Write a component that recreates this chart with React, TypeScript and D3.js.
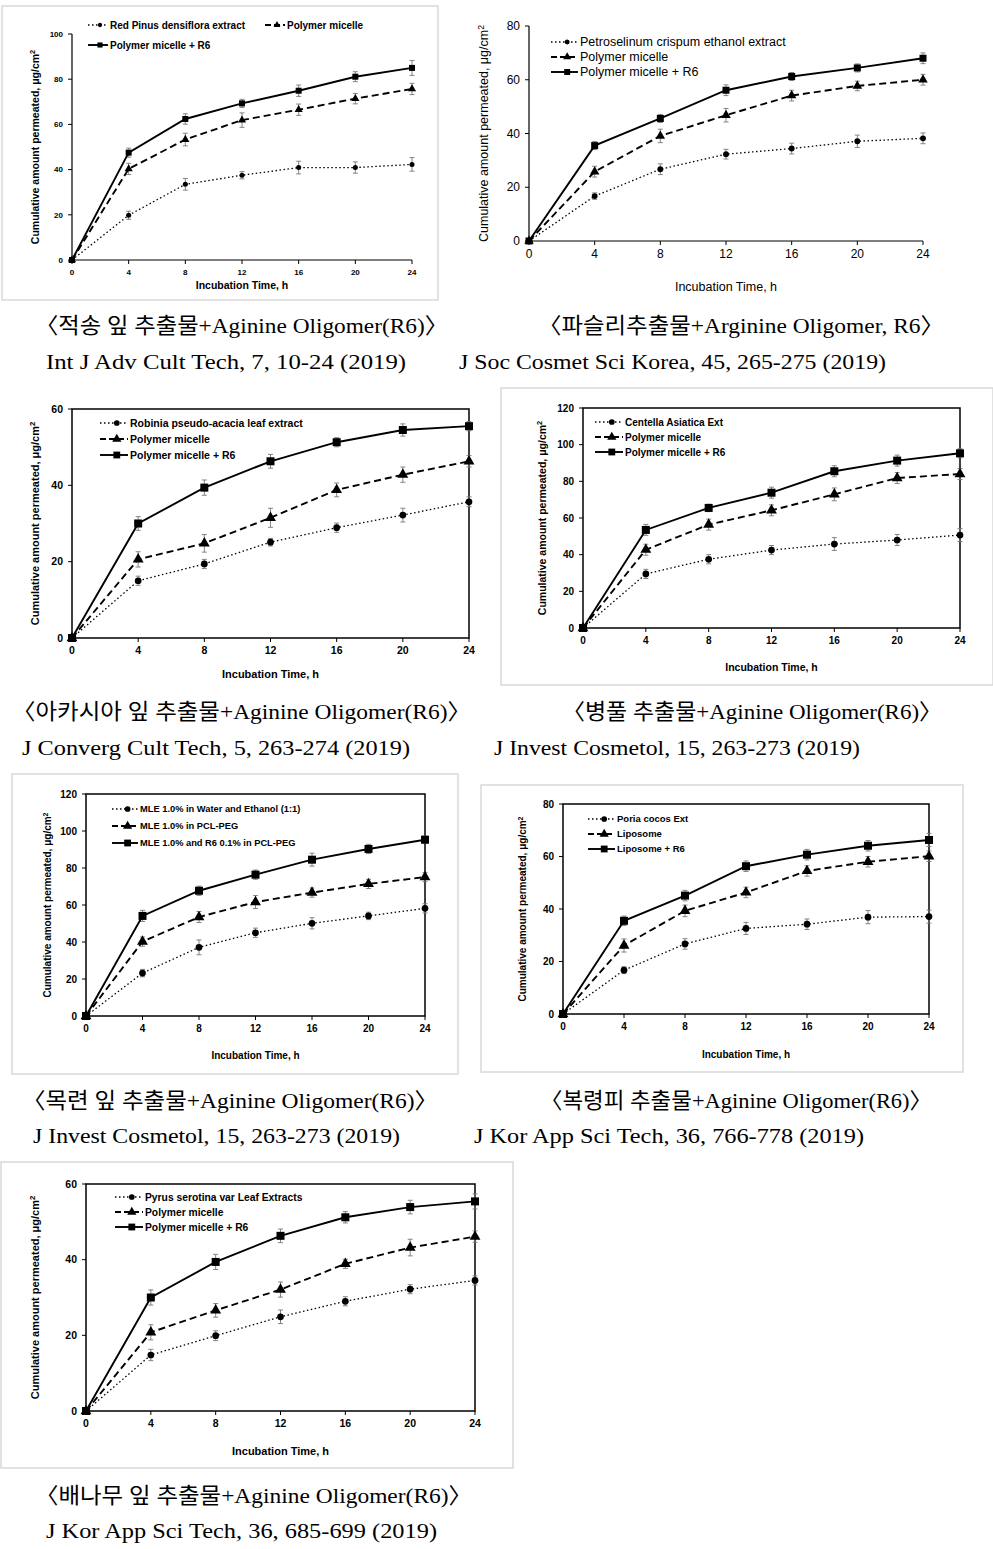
import React from 'react';
import * as d3 from 'd3';

const hours = [0, 4, 8, 12, 16, 20, 24];

// Panel 1 – Red Pinus densiflora
const p1Names = ['Red Pinus densiflora extract', 'Polymer micelle', 'Polymer micelle + R6'];
const p1Extract = [0, 19.8, 33.5, 37.5, 40.9, 40.9, 42.3];
const p1Micelle = [0, 40.3, 53.3, 61.9, 66.5, 71.4, 75.7];
const p1R6 = [0, 47.5, 62.4, 69.3, 74.9, 81.1, 85.0];
const p1ExtractErr = [0, 1.8, 2.6, 1.6, 2.8, 2.5, 3];
const p1MicelleErr = [0, 2.5, 2.8, 3.2, 2.5, 2.3, 2.5];
const p1R6Err = [0, 2, 2.3, 1.8, 2.5, 2.2, 3.3];

// Panel 2 – Petroselinum crispum
const p2Names = ['Petroselinum crispum ethanol extract', 'Polymer micelle', 'Polymer micelle + R6'];
const p2Extract = [0, 16.7, 26.7, 32.3, 34.4, 37.1, 38.2];
const p2Micelle = [0, 25.8, 39.1, 46.8, 54.1, 57.7, 60.0];
const p2R6 = [0, 35.5, 45.6, 56.1, 61.2, 64.4, 68.0];
const p2ExtractErr = [0, 1.2, 2, 1.8, 2, 2.3, 2];
const p2MicelleErr = [0, 2, 2.5, 2.5, 2, 1.8, 2];
const p2R6Err = [0, 1.5, 1.5, 2, 1.5, 1.5, 2];

// Panel 3 – Robinia pseudo-acacia
const p3Names = ['Robinia pseudo-acacia leaf extract', 'Polymer micelle', 'Polymer micelle + R6'];
const p3Extract = [0, 15.0, 19.4, 25.1, 28.9, 32.2, 35.7];
const p3Micelle = [0, 20.6, 24.8, 31.5, 38.8, 42.8, 46.3];
const p3R6 = [0, 30.0, 39.4, 46.3, 51.3, 54.5, 55.5];
const p3ExtractErr = [0, 1.2, 1.2, 1, 1.2, 1.8, 1.3];
const p3MicelleErr = [0, 2, 2.3, 2.5, 1.8, 2, 1.5];
const p3R6Err = [0, 1.8, 2, 1.8, 1.2, 1.6, 1.2];

// Panel 4 – Centella Asiatica
const p4Names = ['Centella Asiatica Ext', 'Polymer micelle', 'Polymer micelle + R6'];
const p4Extract = [0, 29.5, 37.5, 42.5, 45.8, 48.0, 50.7];
const p4Micelle = [0, 42.7, 56.4, 64.2, 72.9, 81.8, 84.0];
const p4R6 = [0, 53.5, 65.5, 73.8, 85.5, 91.3, 95.3];
const p4ExtractErr = [0, 2.5, 2.5, 2.5, 3.5, 3, 3.5];
const p4MicelleErr = [0, 3, 3, 3, 3.5, 3, 3];
const p4R6Err = [0, 3, 2, 3, 3, 3, 2.5];

// Panel 5 – Magnolia leaf extract (MLE)
const p5Names = ['MLE 1.0% in Water and Ethanol (1:1)', 'MLE 1.0% in PCL-PEG', 'MLE 1.0% and R6 0.1% in PCL-PEG'];
const p5Extract = [0, 23.2, 37.1, 45.0, 50.1, 54.1, 58.2];
const p5Micelle = [0, 40.2, 53.5, 61.6, 66.7, 71.4, 75.1];
const p5R6 = [0, 54.1, 67.7, 76.4, 84.5, 90.3, 95.3];
const p5ExtractErr = [0, 2, 4, 2.5, 3, 2, 2.5];
const p5MicelleErr = [0, 2.5, 3, 3.5, 2.5, 2.5, 2.5];
const p5R6Err = [0, 3, 2.5, 2.5, 3.5, 2.5, 2];

// Panel 6 – Poria cocos
const p6Names = ['Poria cocos Ext', 'Liposome', 'Liposome + R6'];
const p6Extract = [0, 16.7, 26.7, 32.6, 34.2, 36.9, 37.1];
const p6Micelle = [0, 26.1, 39.3, 46.3, 54.5, 58.0, 60.1];
const p6R6 = [0, 35.5, 45.1, 56.3, 60.7, 64.1, 66.3];
const p6ExtractErr = [0, 1.3, 2, 2.3, 2, 2.5, 2.5];
const p6MicelleErr = [0, 2.5, 2.2, 2, 2, 2, 2];
const p6R6Err = [0, 1.8, 2, 2, 2, 2, 2.5];

// Panel 7 – Pyrus serotina
const p7Names = ['Pyrus serotina var Leaf Extracts', 'Polymer micelle', 'Polymer micelle + R6'];
const p7Extract = [0, 14.8, 19.9, 24.9, 29.0, 32.2, 34.5];
const p7Micelle = [0, 20.8, 26.6, 32.1, 38.9, 43.2, 46.1];
const p7R6 = [0, 30.0, 39.4, 46.3, 51.2, 53.9, 55.4];
const p7ExtractErr = [0, 1.5, 1.3, 1.8, 1.2, 1.2, 1.2];
const p7MicelleErr = [0, 2, 1.8, 2, 1.2, 2.2, 1.5];
const p7R6Err = [0, 2, 2, 1.8, 1.5, 1.8, 2];

const yTitle = 'Cumulative amount permeated, μg/cm';
const xTitle = 'Incubation Time, h';

const captions1 = [
  '〈적송 잎 추출물+Aginine Oligomer(R6)〉',
  '〈파슬리추출물+Arginine Oligomer, R6〉',
  '〈아카시아 잎 추출물+Aginine Oligomer(R6)〉',
  '〈병풀 추출물+Aginine Oligomer(R6)〉',
  '〈목련 잎 추출물+Aginine Oligomer(R6)〉',
  '〈복령피 추출물+Aginine Oligomer(R6)〉',
  '〈배나무 잎 추출물+Aginine Oligomer(R6)〉',
];
const captions2 = [
  'Int J Adv Cult Tech, 7, 10-24 (2019)',
  'J Soc Cosmet Sci Korea, 45, 265-275 (2019)',
  'J Converg Cult Tech, 5, 263-274 (2019)',
  'J Invest Cosmetol, 15, 263-273 (2019)',
  'J Invest Cosmetol, 15, 263-273 (2019)',
  'J Kor App Sci Tech, 36, 766-778 (2019)',
  'J Kor App Sci Tech, 36, 685-699 (2019)',
];

type Cfg = {
  names: string[];
  series: number[][];
  errs: number[][];
  yMax: number;
  x0: number; x1: number; yb: number; yt: number;
  frame: boolean;
  border: number[] | null;
  bold: boolean;
  tickFs: number; titleFs: number; legFs: number;
  yTitleX: number; xTitleY: number;
  legend: number[][];
  legW: number;
  cap1: number[]; cap2: number[];
  ms: number;
};

const panels: Cfg[] = [
  {
    names: p1Names, series: [p1Extract, p1Micelle, p1R6], errs: [p1ExtractErr, p1MicelleErr, p1R6Err],
    yMax: 100, x0: 72, x1: 412, yb: 260, yt: 34, frame: false, border: [2, 6, 436, 294], bold: true,
    tickFs: 8, titleFs: 10.5, legFs: 10, yTitleX: 39, xTitleY: 289,
    legend: [[88, 25], [265, 25], [88, 45]], legW: 20,
    cap1: [35, 448, 333], cap2: [46, 406, 369], ms: 6,
  },
  {
    names: p2Names, series: [p2Extract, p2Micelle, p2R6], errs: [p2ExtractErr, p2MicelleErr, p2R6Err],
    yMax: 80, x0: 529, x1: 923, yb: 241, yt: 26, frame: false, border: null, bold: false,
    tickFs: 12, titleFs: 12.5, legFs: 12.5, yTitleX: 488, xTitleY: 291,
    legend: [[551, 42], [551, 57], [551, 72]], legW: 27,
    cap1: [538, 944, 333], cap2: [459, 886, 369], ms: 7,
  },
  {
    names: p3Names, series: [p3Extract, p3Micelle, p3R6], errs: [p3ExtractErr, p3MicelleErr, p3R6Err],
    yMax: 60, x0: 72, x1: 469, yb: 638, yt: 409, frame: true, border: null, bold: true,
    tickFs: 10.5, titleFs: 11, legFs: 10.5, yTitleX: 39, xTitleY: 678,
    legend: [[100, 423], [100, 439], [100, 455]], legW: 28,
    cap1: [12, 471, 719], cap2: [22, 410, 755], ms: 8,
  },
  {
    names: p4Names, series: [p4Extract, p4Micelle, p4R6], errs: [p4ExtractErr, p4MicelleErr, p4R6Err],
    yMax: 120, x0: 583, x1: 960, yb: 628, yt: 408, frame: true, border: [501, 388, 492, 297], bold: true,
    tickFs: 10, titleFs: 10.5, legFs: 10, yTitleX: 546, xTitleY: 671,
    legend: [[595, 422], [595, 437], [595, 452]], legW: 28,
    cap1: [562, 942, 719], cap2: [494, 860, 755], ms: 8,
  },
  {
    names: p5Names, series: [p5Extract, p5Micelle, p5R6], errs: [p5ExtractErr, p5MicelleErr, p5R6Err],
    yMax: 120, x0: 86, x1: 425, yb: 1016, yt: 794, frame: true, border: [12, 774, 446, 300], bold: true,
    tickFs: 10, titleFs: 10, legFs: 9.3, yTitleX: 51, xTitleY: 1059,
    legend: [[112, 809], [112, 826], [112, 843]], legW: 26,
    cap1: [22, 438, 1108], cap2: [33, 400, 1143], ms: 8,
  },
  {
    names: p6Names, series: [p6Extract, p6Micelle, p6R6], errs: [p6ExtractErr, p6MicelleErr, p6R6Err],
    yMax: 80, x0: 563, x1: 929, yb: 1014, yt: 804, frame: true, border: [481, 785, 482, 287], bold: true,
    tickFs: 10, titleFs: 10, legFs: 9.5, yTitleX: 526, xTitleY: 1058,
    legend: [[588, 819], [588, 834], [588, 849]], legW: 27,
    cap1: [540, 932, 1108], cap2: [474, 864, 1143], ms: 8,
  },
  {
    names: p7Names, series: [p7Extract, p7Micelle, p7R6], errs: [p7ExtractErr, p7MicelleErr, p7R6Err],
    yMax: 60, x0: 86, x1: 475, yb: 1411, yt: 1184, frame: true, border: [1, 1162, 512, 306], bold: true,
    tickFs: 10.5, titleFs: 11, legFs: 10.3, yTitleX: 39, xTitleY: 1455,
    legend: [[115, 1197], [115, 1212], [115, 1227]], legW: 28,
    cap1: [35, 472, 1503], cap2: [46, 437, 1538], ms: 8,
  },
];

const dashes = ['1.5 2.5', '7 4', ''];
const widths = [1.3, 1.9, 1.9];
const SANS = "'Liberation Sans', Arial, sans-serif";
const SERIF = "'Liberation Serif', 'Noto Sans CJK KR', serif";

function Marker({ kind, cx, cy, s }: { kind: number; cx: number; cy: number; s: number }) {
  if (kind === 0) return <circle cx={cx} cy={cy} r={s * 0.42} fill="#000" />;
  if (kind === 1) {
    const path = d3.symbol().type(d3.symbolTriangle).size(s * s * 0.8)();
    return <path d={path || ''} transform={`translate(${cx},${cy})`} fill="#000" />;
  }
  return <rect x={cx - s / 2} y={cy - s / 2} width={s} height={s} fill="#000" />;
}

function Panel({ c }: { c: Cfg }) {
  const x = d3.scaleLinear().domain([0, 24]).range([c.x0, c.x1]);
  const y = d3.scaleLinear().domain([0, c.yMax]).range([c.yb, c.yt]);
  const line = d3.line<number>().x((_, i) => x(hours[i])).y((d) => y(d));
  const yTicks = d3.range(0, c.yMax + 1, 20);
  const fw = c.bold ? 'bold' : 'normal';
  const ms = c.ms;
  return (
    <g>
      {c.border && (
        <rect x={c.border[0]} y={c.border[1]} width={c.border[2]} height={c.border[3]} fill="none" stroke="#d9d9d9" strokeWidth={1.5} />
      )}
      {c.frame ? (
        <rect x={c.x0} y={c.yt} width={c.x1 - c.x0} height={c.yb - c.yt} fill="none" stroke="#000" strokeWidth={1.5} />
      ) : (
        <path d={`M${c.x0},${c.yt}V${c.yb}H${c.x1}`} fill="none" stroke="#000" strokeWidth={1.2} />
      )}
      {yTicks.map((t) => (
        <g key={'y' + t}>
          <line x1={c.x0 - 4} x2={c.x0} y1={y(t)} y2={y(t)} stroke="#000" strokeWidth={1} />
          <text x={c.x0 - 9} y={y(t)} dy="0.35em" textAnchor="end" fontSize={c.tickFs} fontWeight={fw} fontFamily={SANS}>{t}</text>
        </g>
      ))}
      {hours.map((t) => (
        <g key={'x' + t}>
          <line x1={x(t)} x2={x(t)} y1={c.yb} y2={c.yb + 4} stroke="#000" strokeWidth={1} />
          <text x={x(t)} y={c.yb + 12 + c.tickFs * 0.4} textAnchor="middle" fontSize={c.tickFs} fontWeight={fw} fontFamily={SANS}>{t}</text>
        </g>
      ))}
      <text x={(c.x0 + c.x1) / 2} y={c.xTitleY} textAnchor="middle" fontSize={c.titleFs} fontWeight={fw} fontFamily={SANS}>{xTitle}</text>
      <text transform={`translate(${c.yTitleX},${(c.yb + c.yt) / 2}) rotate(-90)`} textAnchor="middle" fontSize={c.titleFs} fontWeight={fw} fontFamily={SANS}>
        {yTitle}<tspan dy={-c.titleFs * 0.35} fontSize={c.titleFs * 0.7}>2</tspan>
      </text>
      {c.series.map((s, si) =>
        s.map((v, i) => {
          const e = c.errs[si][i];
          if (!e) return null;
          const px = x(hours[i]);
          return (
            <g key={`e${si}-${i}`} stroke="#777" strokeWidth={0.9}>
              <line x1={px} x2={px} y1={y(v - e)} y2={y(v + e)} />
              <line x1={px - 2.5} x2={px + 2.5} y1={y(v - e)} y2={y(v - e)} />
              <line x1={px - 2.5} x2={px + 2.5} y1={y(v + e)} y2={y(v + e)} />
            </g>
          );
        })
      )}
      {c.series.map((s, si) => (
        <path key={'l' + si} d={line(s) || ''} fill="none" stroke="#000" strokeWidth={widths[si]} strokeDasharray={dashes[si]} />
      ))}
      {c.series.map((s, si) =>
        s.map((v, i) => <Marker key={`m${si}-${i}`} kind={si} cx={x(hours[i])} cy={y(v)} s={ms} />)
      )}
      {c.names.map((n, i) => {
        const [lx, ly] = c.legend[i];
        return (
          <g key={'lg' + i}>
            <line x1={lx} x2={lx + c.legW} y1={ly} y2={ly} stroke="#000" strokeWidth={widths[i]} strokeDasharray={i === 0 ? '1.5 2.5' : i === 1 ? '6 3' : ''} />
            <Marker kind={i} cx={lx + c.legW * 0.6} cy={ly} s={ms * 0.85} />
            <text x={lx + c.legW + 2} y={ly} dy="0.35em" fontSize={c.legFs} fontWeight={fw} fontFamily={SANS}>{n}</text>
          </g>
        );
      })}
    </g>
  );
}

export default function App() {
  return (
    <svg width={993} height={1549} style={{ position: 'absolute', left: 0, top: 0, background: '#fff' }}>
      <rect x={0} y={0} width={993} height={1549} fill="#fff" />
      {panels.map((c, i) => (
        <g key={i}>
          <Panel c={c} />
          <text x={c.cap1[0]} y={c.cap1[2]} textLength={c.cap1[1] - c.cap1[0]} lengthAdjust="spacingAndGlyphs" fontSize={22} fontFamily={SERIF}>{captions1[i]}</text>
          <text x={c.cap2[0]} y={c.cap2[2]} textLength={c.cap2[1] - c.cap2[0]} lengthAdjust="spacingAndGlyphs" fontSize={22} fontFamily={SERIF}>{captions2[i]}</text>
        </g>
      ))}
    </svg>
  );
}
